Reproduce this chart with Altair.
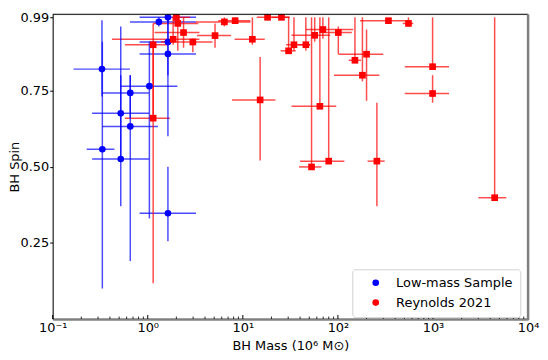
import altair as alt
import pandas as pd

# ---- data ----
# Low-mass sample (blue circles)
lm_mass = [0.33, 0.333, 0.52, 0.52, 0.655, 0.655, 1.04, 1.63, 1.63, 1.31, 1.63, 1.63]
lm_spin = [0.82, 0.557, 0.525, 0.675, 0.632, 0.742, 0.764, 0.870, 0.909, 0.975, 0.99, 0.347]
lm_mlo = [0.166, 0.228, 0.26, 0.26, 0.333, 0.333, 0.52, 0.82, 0.82, 0.65, 0.82, 0.82]
lm_mhi = [0.65, 0.446, 1.03, 1.03, 1.28, 1.03, 2.05, 3.22, 1.77, 3.22, 3.22, 3.22]
lm_slo = [0.73, 0.10, 0.37, 0.52, 0.19, 0.66, 0.33, 0.60, 0.80, 0.96, 0.97, 0.255]
lm_shi = [0.98, 0.91, 0.80, 0.96, 0.80, 0.80, 0.91, 0.99, 0.99, 0.99, 0.99, 0.50]

# Reynolds 2021 (red squares)
r_mass = [1.14, 1.14, 1.85, 2.0, 2.07, 2.38, 2.98, 5.1, 6.4, 8.3, 12.6, 18.2, 25.5,
          15.2, 30.3, 34.5, 46, 57, 69.5, 101, 151, 200, 181, 64.6, 340, 552,
          990, 990, 4450, 52.8, 80, 257]
r_spin = [0.659, 0.900, 0.918, 0.99, 0.97, 0.94, 0.909, 0.93, 0.975, 0.979, 0.918, 0.99, 0.99,
          0.719, 0.88, 0.90, 0.90, 0.931, 0.95, 0.94, 0.849, 0.869, 0.80, 0.698, 0.979, 0.97,
          0.828, 0.74, 0.398, 0.499, 0.518, 0.518]
r_mlo = [0.575, 0.575, 0.42, 1.8, 1.14, 1.18, 1.38, 3.3, 3.2, 5.5, 8.2, 14, 20,
         7.7, 25, 28.5, 38, 32.5, 46, 64, 130, 101, 91, 32.5, 171, 480,
         505, 505, 3000, 39, 40, 205]
r_mhi = [1.71, 1.63, 3.5, 2.8, 3.4, 3.5, 4.8, 7.5, 12, 12, 17, 31, 31,
         22, 36, 51, 51, 83, 145, 140, 175, 300, 273, 96, 552, 620,
         1475, 1475, 5900, 67, 117, 310]
r_slo = [0.117, 0.66, 0.90, 0.97, 0.88, 0.89, 0.875, 0.89, 0.96, 0.97, 0.90, 0.99, 0.99,
         0.52, 0.88, 0.88, 0.88, 0.91, 0.92, 0.87, 0.84, 0.716, 0.78, 0.698, 0.979, 0.96,
         0.83, 0.71, 0.398, 0.499, 0.518, 0.37]
r_shi = [0.90, 0.97, 0.99, 0.99, 0.99, 0.99, 0.92, 0.97, 0.99, 0.99, 0.99, 0.99, 0.99,
         0.86, 0.99, 0.99, 0.99, 0.99, 0.99, 0.96, 0.99, 0.95, 0.99, 0.99, 0.979, 0.99,
         0.99, 0.80, 0.99, 0.99, 0.99, 0.71]

series_names = ["Low-mass Sample", "Reynolds 2021"]
series_colors = ["#0000ff", "#ff0000"]
series_shapes = ["circle", "square"]

major_ticks = [0.1, 1, 10, 100, 1000, 10000]
minor_ticks = [m * d for d in [0.1, 1, 10, 100, 1000] for m in range(2, 10)]
y_ticks = [0.25, 0.50, 0.75, 0.99]

# ---- build table ----
rows = []
for i in range(len(lm_mass)):
    rows.append(dict(sample=series_names[0], mass=lm_mass[i], spin=lm_spin[i],
                     mlo=lm_mlo[i], mhi=lm_mhi[i], slo=lm_slo[i], shi=lm_shi[i]))
for i in range(len(r_mass)):
    rows.append(dict(sample=series_names[1], mass=r_mass[i], spin=r_spin[i],
                     mlo=r_mlo[i], mhi=r_mhi[i], slo=r_slo[i], shi=r_shi[i]))
df = pd.DataFrame(rows)

W, H = 479, 307
FONT = "DejaVu Sans"

xscale = alt.Scale(type="log", domain=[0.1, 10000], nice=False)
yscale = alt.Scale(domain=[0, 1.0], nice=False, zero=False)
cscale = alt.Scale(domain=series_names, range=series_colors)

legend = alt.Legend(title=None, orient="none", legendX=302, legendY=257,
                    labelFontSize=13, labelFont=FONT, labelColor="black",
                    symbolSize=45, symbolStrokeWidth=0,
                    padding=7, rowPadding=6, symbolOffset=10, labelOffset=14,
                    strokeColor="#d9d9d9", fillColor="white", cornerRadius=3,
                    labelLimit=300)

xaxis = alt.Axis(values=major_ticks, ticks=False, grid=False, labelFontSize=13, labelFont=FONT,
                 labelColor="black", labelPadding=3,
                 labelExpr="'10' + ['⁻¹','⁰','¹','²','³','⁴'][round(log(datum.value)/LN10)+1]",
                 title="BH Mass (10⁶ M⊙)", titleFontSize=13, titleFont=FONT, titleFontWeight="normal",
                 titleColor="black", titlePadding=5, domainColor="#808080", domainWidth=2.5,
                 labelFlush=False)
yaxis = alt.Axis(values=y_ticks, format=".2f", grid=False, tickSize=3, tickColor="black",
                 labelFontSize=13, labelFont=FONT, labelColor="black", labelPadding=1,
                 title="BH Spin", titleFontSize=13, titleFont=FONT, titleFontWeight="normal",
                 titleColor="black", titleX=-31, domainColor="black", domainWidth=1)

base = alt.Chart(df)

hbars = base.mark_rule(strokeWidth=1.5, opacity=0.7).encode(
    x=alt.X("mlo:Q", scale=xscale, axis=xaxis), x2="mhi:Q",
    y=alt.Y("spin:Q", scale=yscale, axis=yaxis),
    color=alt.Color("sample:N", scale=cscale, legend=None))
vbars = base.mark_rule(strokeWidth=1.5, opacity=0.7).encode(
    x=alt.X("mass:Q", scale=xscale), y=alt.Y("slo:Q", scale=yscale), y2="shi:Q",
    color=alt.Color("sample:N", scale=cscale, legend=None))
pts = base.mark_point(filled=True, opacity=1, size=45).encode(
    x=alt.X("mass:Q", scale=xscale), y=alt.Y("spin:Q", scale=yscale),
    color=alt.Color("sample:N", scale=cscale, legend=legend),
    shape=alt.Shape("sample:N", scale=alt.Scale(domain=series_names, range=series_shapes),
                    legend=legend))

major_df = pd.DataFrame({"t": major_ticks})
minor_df = pd.DataFrame({"t": minor_ticks})
maj = alt.Chart(major_df).mark_rule(color="black", strokeWidth=1).encode(
    x=alt.X("t:Q", scale=xscale), y=alt.value(H), y2=alt.value(H - 4))
mnr = alt.Chart(minor_df).mark_rule(color="black", strokeWidth=0.8).encode(
    x=alt.X("t:Q", scale=xscale), y=alt.value(H), y2=alt.value(H - 2.5))

frame_df = pd.DataFrame({"k": [0]})
top = alt.Chart(frame_df).mark_rule(color="black", strokeWidth=1).encode(
    x=alt.value(0), x2=alt.value(W), y=alt.value(0))
right = alt.Chart(frame_df).mark_rule(color="#808080", strokeWidth=2.5).encode(
    x=alt.value(W), y=alt.value(0), y2=alt.value(H + 1))

chart = alt.layer(hbars, vbars, pts, maj, mnr, top, right).resolve_scale(
    color="independent"
).properties(
    width=W, height=H,
    autosize=alt.AutoSizeParams(type="none"),
    padding={"left": 45, "top": 5, "right": 12, "bottom": 40},
).configure_view(stroke=None).configure(background="white")

chart.save("out.html", embed_options={"renderer": "svg", "actions": False})
